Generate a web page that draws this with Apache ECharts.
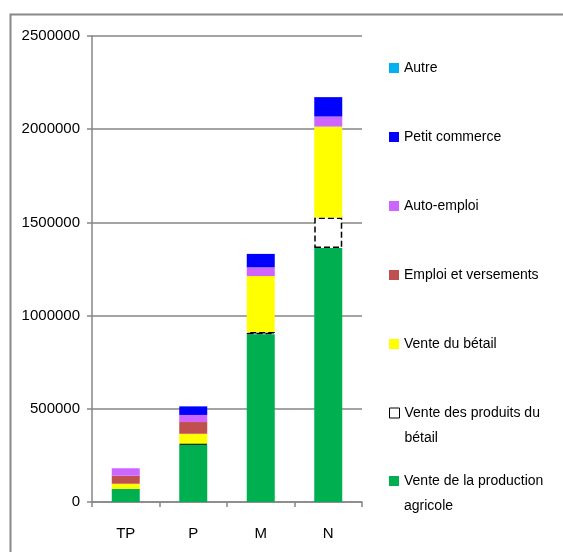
<!DOCTYPE html>
<html>
<head>
<meta charset="utf-8">
<script src="https://cdn.jsdelivr.net/npm/echarts@6/dist/echarts.min.js"></script>
<style>
  html, body { margin: 0; padding: 0; background: #fff; }
  #chart { width: 563px; height: 552px; }
</style>
</head>
<body>
<div id="chart"></div>
<script>
var myChart = echarts.init(document.getElementById('chart'));

var categories = ['TP', 'P', 'M', 'N'];
var agricole   = [70000, 309000, 900000, 1363000];
var produits   = ['-', 4000, 12000, 163000];
var betail     = [28000, 53000, 300000, 488000];
var emploi     = [43000, 63000, 0, 0];
var autoEmploi = [40000, 38000, 47000, 54000];
var commerce   = ['-', 46000, 72000, 104000];
var autre      = [0, 0, 0, 0];

var names = ['Vente de la production agricole', 'Vente des produits du bétail', 'Vente du bétail',
             'Emploi et versements', 'Auto-emploi', 'Petit commerce', 'Autre'];
// texte affiché dans la légende (ligne vide en tête pour caler le carré sur la 1re ligne)
var legendText = {
    'Vente de la production agricole': ' \nVente de la production\nagricole',
    'Vente des produits du bétail': ' \nVente des produits du\nbétail'
};
var colors = ['#00B050', '#FFFFFF', '#FFFF00', '#C0504D', '#CC66FF', '#0000FF', '#00B0F0'];
var values = [agricole, produits, betail, emploi, autoEmploi, commerce, autre];

var font = "'Liberation Sans', Arial, sans-serif";
// centre de la première ligne de chaque entrée (de bas en haut : agricole ... Autre)
var legendY = [480, 412, 343, 274, 205, 136, 67];

var series = values.map(function (v, i) {
    var s = {
        name: names[i],
        type: 'bar',
        stack: 'total',
        barWidth: 28,
        data: v,
        itemStyle: { color: colors[i] }
    };
    if (i === 1) {
        s.itemStyle = { color: '#FFFFFF', borderColor: '#000', borderWidth: 1.5, borderType: 'dashed' };
    }
    return s;
});

var legends = names.map(function (n, i) {
    var twoLines = !!legendText[n];
    return {
        data: [n],
        left: 384,
        top: legendY[i] - (twoLines ? 37.5 : 12.5) - 4,
        orient: 'vertical',
        icon: 'rect',
        itemWidth: 10,
        itemHeight: 10,
        itemGap: 0,
        formatter: function (name) { return legendText[name] || name; },
        itemStyle: i === 1 ? { borderColor: '#000', borderWidth: 1 } : {},
        textStyle: {
            fontFamily: font,
            fontSize: 14,
            color: '#000',
            lineHeight: 25
        }
    };
});

myChart.setOption({
    animation: false,
    graphic: [{
        type: 'rect',
        left: 8,
        top: 12,
        shape: { width: 600, height: 600 },
        style: { fill: 'none', stroke: '#888', lineWidth: 2 }
    }],
    legend: legends,
    grid: { left: 92, right: 201, top: 36, bottom: 50 },
    xAxis: {
        type: 'category',
        data: categories,
        axisLine: { lineStyle: { color: '#868686', width: 1.5 } },
        axisTick: { show: true, length: 5, lineStyle: { color: '#868686', width: 1.5 } },
        axisLabel: { fontFamily: font, fontSize: 15, color: '#000', margin: 24 }
    },
    yAxis: {
        type: 'value',
        min: 0,
        max: 2500000,
        interval: 500000,
        axisLine: { show: true, lineStyle: { color: '#868686', width: 1.5 } },
        axisTick: { show: true, length: 5, lineStyle: { color: '#868686', width: 1.5 } },
        axisLabel: {
            fontFamily: font, fontSize: 15, color: '#000', margin: 12,
            formatter: function (v) { return String(v); }
        },
        splitLine: { lineStyle: { color: '#868686', width: 1.5 } }
    },
    series: series
});
</script>
</body>
</html>
